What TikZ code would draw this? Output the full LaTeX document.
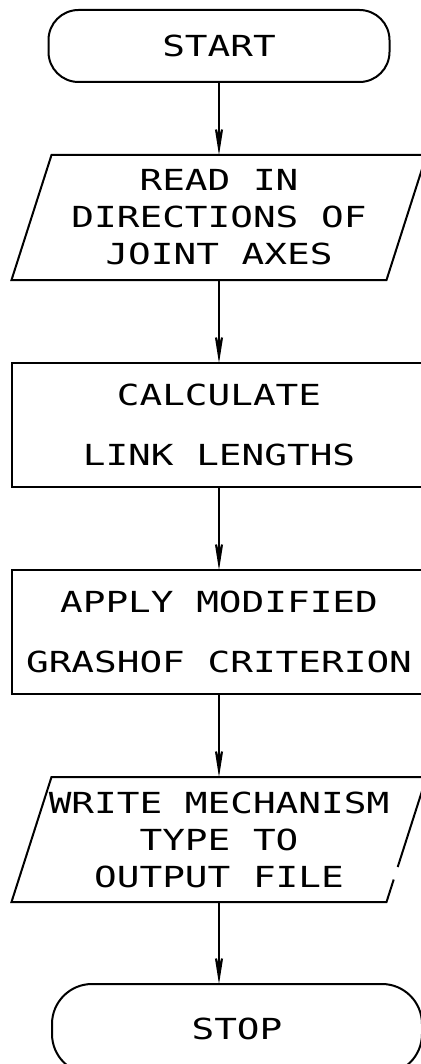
\documentclass[tikz,border=0pt]{standalone}
\usepackage{fontspec}
\newfontfamily\plotfont{DejaVu Sans Mono}[FakeStretch=1.3]
\usetikzlibrary{arrows.meta,calc}

\begin{document}
\begin{tikzpicture}[x=0.5pt,y=-0.5pt,line width=1pt,
  term/.style={draw,rounded corners=15pt,minimum width=170.5pt,minimum height=36pt,
    outer sep=0pt,font=\plotfont\fontsize{14.5}{18.5}\selectfont},
  iobox/.style={minimum width=187.5pt,minimum height=62.5pt,inner sep=0pt,outer sep=0pt,
    align=center,font=\plotfont\fontsize{14.5}{18.5}\selectfont},
  procbox/.style={draw,minimum width=207pt,minimum height=62pt,outer sep=0pt,
    align=center,font=\plotfont\fontsize{14.5}{30}\selectfont},
  flow/.style={-{Stealth[length=22pt,width=7pt,inset=13pt]}}]
  \useasboundingbox (0,0) rectangle (421,1064);
  \clip (0,0) rectangle (421,1064);
  % Geometry
  \def\slant{10pt} % half the sideways shift of the slanted boxes
  % Steps
  \node[term] (start) at (219,46) {START};
  \node[iobox] (read) at (219,217.5) {READ IN\\DIRECTIONS OF\\JOINT AXES};
  \node[procbox] (links) at (219,425) {CALCULATE\\LINK LENGTHS};
  \node[procbox] (grashof) at (219,632) {APPLY MODIFIED\\GRASHOF CRITERION};
  \node[iobox] (write) at (219,839.5) {WRITE MECHANISM\\TYPE TO\\OUTPUT FILE};
  \node[term,rounded corners=20pt,minimum width=185pt,minimum height=45pt] (stop) at (237,1029) {STOP};
  % Input / output outlines
  \draw ([xshift=-\slant]read.south east) -- ([xshift=-\slant]read.south west)
    -- ([xshift=\slant]read.north west) -- ([xshift=\slant]read.north east) -- cycle;
  % right side of the output box has a small break
  \draw ($([xshift=\slant]write.north east)!0.72!([xshift=-\slant]write.south east)$)
    -- ([xshift=\slant]write.north east) -- ([xshift=\slant]write.north west)
    -- ([xshift=-\slant]write.south west) -- ([xshift=-\slant]write.south east)
    -- ($([xshift=\slant]write.north east)!0.82!([xshift=-\slant]write.south east)$);
  % Flow
  \draw[flow] (start) -- (read);
  \draw[flow] (read) -- (links);
  \draw[flow] (links) -- (grashof);
  \draw[flow] (grashof) -- (write);
  \draw[flow] (write) -- (write.south |- stop.north);
\end{tikzpicture}
\end{document}
